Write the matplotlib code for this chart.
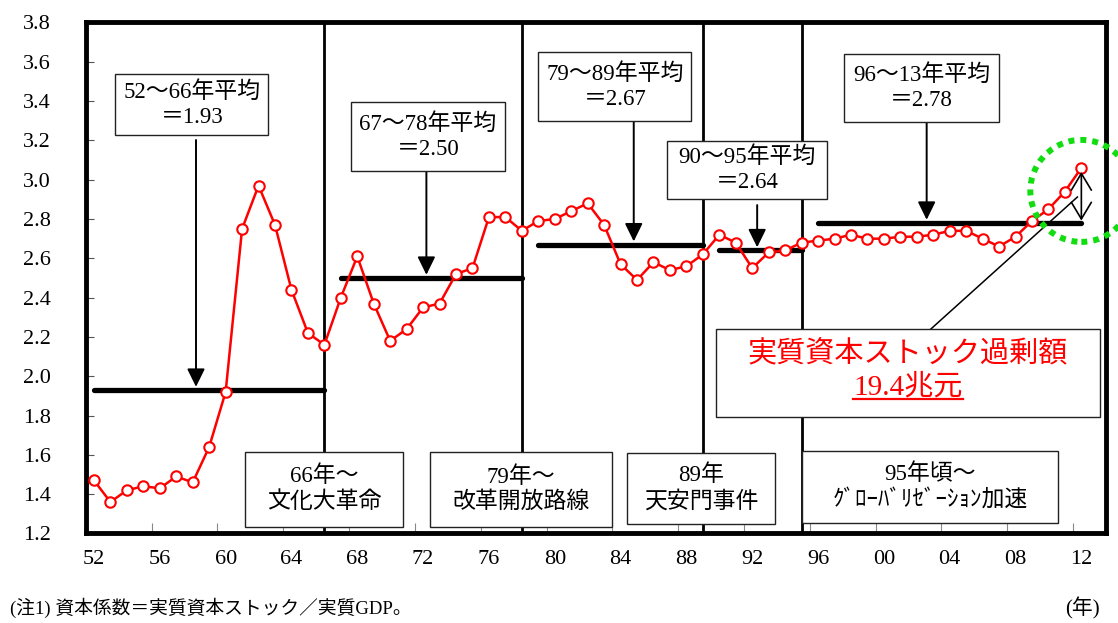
import numpy as np
import matplotlib
matplotlib.use("Agg")
import matplotlib.pyplot as plt
from matplotlib.patches import Rectangle, Ellipse

plt.rcParams['font.family'] = ['Liberation Serif', 'Noto Sans CJK JP']

# 資本係数（実質資本ストック／実質GDP）
years = list(range(1952, 2013))
capital_coef = [1.47, 1.36, 1.42, 1.44, 1.43, 1.49, 1.46, 1.64, 1.92, 2.75,
                2.97, 2.77, 2.44, 2.22, 2.16,
                2.40, 2.61, 2.37, 2.18, 2.24, 2.35, 2.37, 2.52, 2.55, 2.81,
                2.81, 2.74,
                2.79, 2.80, 2.84, 2.88, 2.77, 2.57, 2.49, 2.58, 2.54, 2.56,
                2.62,
                2.72, 2.68, 2.55, 2.63, 2.64, 2.68,
                2.69, 2.70, 2.72, 2.70, 2.70, 2.71, 2.71, 2.72, 2.74, 2.74,
                2.70, 2.66, 2.71, 2.79, 2.85, 2.94, 3.06]

period_start = [1952, 1967, 1979, 1990, 1996]
period_end = [1966, 1978, 1989, 1995, 2012]
period_mean = [1.93, 2.50, 2.67, 2.64, 2.78]
period_names = ['52〜66', '67〜78', '79〜89', '90〜95', '96〜13']

event_years = [1966, 1978, 1989, 1995]
event_labels = ['66年〜\n文化大革命', '79年〜\n改革開放路線',
                '89年\n天安門事件', '95年頃〜\nｸﾞﾛｰﾊﾞﾘｾﾞｰｼｮﾝ加速']

excess_label = '実質資本ストック過剰額'
excess_value = '19.4兆元'

tick_years = list(range(1952, 2013, 4))
tick_labels = ['%02d' % (y % 100) for y in tick_years]

# layout of the annotation boxes (data coords: x0, x1, y0, y1) and arrows
mean_boxes = [(1953.3, 1962.6, 3.228, 3.538),
              (1967.6, 1977.0, 3.045, 3.396),
              (1979.0, 1988.3, 3.299, 3.650),
              (1986.85, 1996.55, 2.902, 3.197),
              (1997.6, 2007.0, 3.294, 3.640)]
arrow_x = [1958.2, 1972.2, 1984.8, 1992.3, 2002.6]
arrow_top = [3.202, 3.045, 3.299, 2.871, 3.294]
event_boxes = [(1961.2, 1970.75, 1.233, 1.614),
               (1972.4, 1983.5, 1.233, 1.614),
               (1984.4, 1993.4, 1.248, 1.609),
               (1995.0, 2010.6, 1.253, 1.620)]
box_fs = 16.5


def draw_box(ax, box, text, color='black', fs=box_fs):
    x0, x1, y0, y1 = box
    ax.add_patch(Rectangle((x0, y0), x1 - x0, y1 - y0, facecolor='white',
                           edgecolor='#222222', linewidth=1.0, zorder=6,
                           clip_on=False))
    if text:
        ax.text((x0 + x1) / 2, (y0 + y1) / 2, text, ha='center',
                va='center', multialignment='center', fontsize=fs,
                color=color, linespacing=1.25, zorder=7)


fig = plt.figure(figsize=(11.18, 6.23), dpi=100)
ax = fig.add_axes([0.0767, 0.1437, 0.9126, 0.8202])

ax.set_xlim(1951.5, 2013.5)
ax.set_ylim(1.2, 3.8)

# event separators
for ey in event_years:
    ax.axvline(ey, color='black', linewidth=2.0, zorder=2)

# period averages
for s, e, m in zip(period_start, period_end, period_mean):
    ax.plot([s, e], [m, m], color='black', linewidth=3.8,
            solid_capstyle='round', zorder=3)

ax.plot(years, capital_coef, color='red', linewidth=1.8, marker='o',
        markersize=7.5, markerfacecolor='white', markeredgecolor='red',
        markeredgewidth=1.5, zorder=4)

# average boxes with arrows
for box, name, m, xa, yt in zip(mean_boxes, period_names, period_mean,
                                arrow_x, arrow_top):
    draw_box(ax, box, '%s年平均\n＝%.2f' % (name, m))
    ax.annotate('', xy=(xa, m + 0.016), xytext=(xa, yt),
                arrowprops=dict(arrowstyle='-|>,head_width=0.27,head_length=0.55',
                                mutation_scale=20, color='black', lw=1.4,
                                shrinkA=0, shrinkB=0), zorder=5)

for box, lab in zip(event_boxes, event_labels):
    draw_box(ax, box, lab)

# excess capital stock box
ex_box = (1989.8, 2013.15, 1.793, 2.240)
draw_box(ax, ex_box, '')
cx = (ex_box[0] + ex_box[1]) / 2
ax.text(cx, 2.108, excess_label, ha='center', va='center', fontsize=21,
        color='red', zorder=7)
val_txt = ax.text(cx, 1.945, excess_value, ha='center', va='center',
                  fontsize=21, color='red', zorder=7)

ax.plot([2002.85, 2011.76], [2.240, 2.912], color='black', linewidth=1.1,
        zorder=5, clip_on=False)
ax.annotate('', xy=(years[-1], period_mean[-1] + 0.012),
            xytext=(years[-1], capital_coef[-1] - 0.02),
            arrowprops=dict(arrowstyle='<->,head_width=0.36,head_length=0.6',
                            mutation_scale=20, color='black', lw=1.2,
                            shrinkA=0, shrinkB=0), zorder=5)
ax.add_patch(Ellipse((years[-1], 2.943), 6.2, 0.519, fill=False,
                     edgecolor='#11dd11', linewidth=4.3,
                     linestyle=(0, (1, 1)), zorder=8, clip_on=False))

# axes styling
for sp in ax.spines.values():
    sp.set_linewidth(3.5)
    sp.set_color('black')
ax.set_yticks(np.arange(1.2, 3.81, 0.2))
ax.set_yticklabels(['%.1f' % v for v in np.arange(1.2, 3.81, 0.2)])
ax.tick_params(axis='y', direction='in', length=6, width=0.8,
               color='#555555', labelsize=16, pad=25)
ax.set_xticks(tick_years)
ax.set_xticklabels(tick_labels)
ax.tick_params(axis='x', which='major', length=0, labelsize=16, pad=12)
ax.set_xticks(np.arange(1955.5, 2013, 4), minor=True)
ax.tick_params(axis='x', which='minor', direction='in', length=7,
               width=0.8, color='#888888')

fig.text(10 / 1118, 1 - 608 / 623, '(注1) 資本係数＝実質資本ストック／実質GDP。',
         ha='left', va='center', fontsize=13.5)
fig.text(1100 / 1118, 1 - 608 / 623, '(年)', ha='right', va='center',
         fontsize=15)

# underline the value
fig.canvas.draw()
bb = val_txt.get_window_extent(renderer=fig.canvas.get_renderer())
inv = ax.transData.inverted()
(ux0, uy0), (ux1, _) = inv.transform([[bb.x0, bb.y0], [bb.x1, bb.y0]])
ax.plot([ux0, ux1], [uy0 + 0.005, uy0 + 0.005], color='red', linewidth=1.6,
        zorder=7)

fig.savefig('out.png', dpi=100)
